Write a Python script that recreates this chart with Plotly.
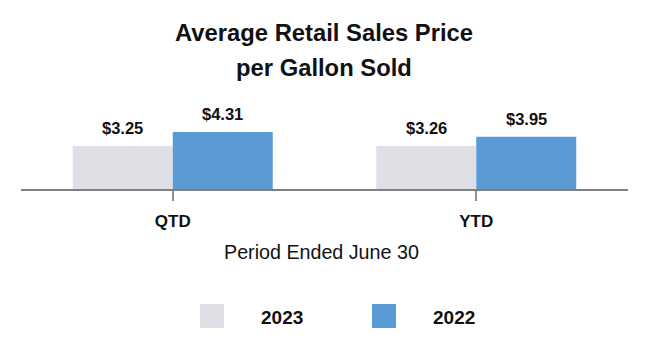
import plotly.graph_objects as go

# ---- data ----
periods = ["QTD", "YTD"]
series_names = ["2023", "2022"]
prices_2023 = [3.25, 3.26]
prices_2022 = [4.31, 3.95]
title_lines = ["Average Retail Sales Price", "per Gallon Sold"]
x_axis_title = "Period Ended June 30"

# ---- style ----
COLORS = ["#DFE0E6", "#5B9BD5"]
FONT = "Liberation Sans, Arial, sans-serif"
W, H = 648, 360
L, R, T, B = 21, 20, 123, 171
PW, PH = W - L - R, H - T - B


def px(x):
    return (x - L) / PW


def py(y):
    return (H - B - y) / PH


fig = go.Figure()
for name, vals, col in zip(series_names, [prices_2023, prices_2022], COLORS):
    fig.add_trace(go.Bar(x=periods, y=vals, name=name, marker=dict(color=col, line=dict(width=0)),
                         showlegend=False, hoverinfo="skip"))

annotations = []
# value labels
for vals, shift in zip([prices_2023, prices_2022], [-50, 50]):
    for p, v in zip(periods, vals):
        annotations.append(dict(x=p, y=v, xref="x", yref="y", text=f"${v:.2f}", showarrow=False,
                                xshift=shift, yshift=7, yanchor="bottom",
                                font=dict(family=FONT, size=16.5, color="#111111", weight="bold")))
# title lines
for line, yc in zip(title_lines, [32, 67]):
    annotations.append(dict(x=px(323.5), y=py(yc), xref="paper", yref="paper", text=line, showarrow=False,
                            xanchor="center", yanchor="middle",
                            font=dict(family=FONT, size=23.8, color="#111111", weight="bold")))
# axis title
annotations.append(dict(x=px(321), y=py(252), xref="paper", yref="paper", text=x_axis_title, showarrow=False,
                        xanchor="center", yanchor="middle",
                        font=dict(family=FONT, size=19.7, color="#111111")))

# manual legend
shapes = []
for name, col, sx, tx in zip(series_names, COLORS, [200, 372], [282, 454]):
    shapes.append(dict(type="rect", xref="paper", yref="paper", x0=px(sx), x1=px(sx + 24),
                       y0=py(328), y1=py(304), fillcolor=col, line=dict(width=0)))
    annotations.append(dict(x=px(tx), y=py(317), xref="paper", yref="paper", text=name, showarrow=False,
                            xanchor="center", yanchor="middle",
                            font=dict(family=FONT, size=19, color="#111111", weight="bold")))

fig.update_layout(
    width=W, height=H,
    margin=dict(l=L, r=R, t=T, b=B, pad=0),
    paper_bgcolor="white", plot_bgcolor="white",
    barmode="group", bargap=0.341, bargroupgap=0,
    showlegend=False,
    annotations=annotations, shapes=shapes,
    xaxis=dict(type="category", range=[-0.5, 1.5], showline=True, linecolor="#808080", linewidth=2,
               ticks="outside", ticklen=10, tickwidth=1.5, tickcolor="#909090",
               tickfont=dict(family=FONT, size=17, color="#111111", weight="bold"),
               ticklabelstandoff=6, showgrid=False, zeroline=False, fixedrange=True),
    yaxis=dict(range=[0, 5], visible=False, showgrid=False, zeroline=False, fixedrange=True),
)

fig.write_html("out.html", config={"displayModeBar": False},
               post_script="document.body.style.margin='0';document.body.style.overflow='hidden';")
